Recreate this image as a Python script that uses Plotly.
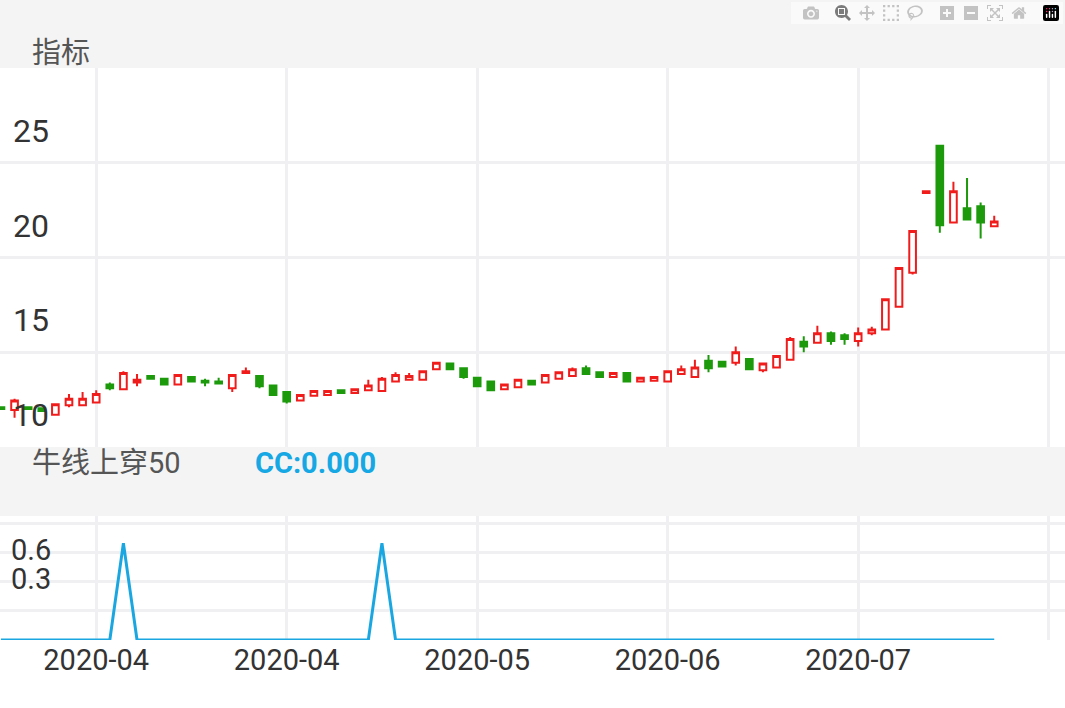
import plotly.graph_objects as go
from plotly.subplots import make_subplots

# K线数据（开、高、低、收）
opens = [12.1, 11.95, 12.1, 12.05, 11.7, 12.2, 12.2, 12.35, 13.3, 13.05,
         13.4, 13.75, 13.6, 13.3, 13.7, 13.5, 13.45, 13.1, 13.9, 13.75,
         13.25, 12.9, 12.45, 12.7, 12.75, 13.0, 12.85, 13.0, 12.95, 13.45,
         13.55, 13.55, 14.1, 14.4, 14.15, 13.65, 13.45, 13.05, 13.15, 13.5,
         13.4, 13.6, 13.75, 14.15, 13.95, 13.7, 13.9, 13.45, 13.5, 13.45,
         13.85, 13.7, 14.55, 14.5, 14.45, 14.65, 14.05, 14.2, 14.6, 15.55,
         15.5, 16.0, 15.9, 15.6, 16.0, 16.2, 17.4, 19.2, 23.4, 25.9,
         21.85, 22.6, 22.7, 21.65]
highs = [12.15, 12.55, 12.15, 12.1, 12.3, 12.8, 12.9, 13.0, 13.4, 14.0,
         13.85, 13.8, 13.65, 13.85, 13.75, 13.6, 13.65, 13.85, 14.2, 13.8,
         13.3, 12.9, 12.8, 12.95, 12.95, 13.0, 13.05, 13.55, 13.7, 13.95,
         13.9, 14.05, 14.5, 14.4, 14.15, 13.7, 13.5, 13.35, 13.6, 13.55,
         13.85, 14.0, 14.2, 14.3, 14.0, 13.9, 13.9, 13.7, 13.75, 14.0,
         14.3, 14.6, 14.85, 14.55, 15.3, 14.65, 14.45, 14.8, 15.8, 15.85,
         16.4, 16.1, 16.0, 16.3, 16.35, 17.8, 19.5, 21.4, 23.55, 25.9,
         24.0, 24.2, 22.9, 22.2]
lows = [11.95, 11.55, 11.95, 11.85, 11.7, 12.1, 12.2, 12.35, 13.0, 13.05,
        13.2, 13.55, 13.3, 13.3, 13.45, 13.2, 13.35, 12.9, 13.9, 13.1,
        12.7, 12.3, 12.4, 12.65, 12.7, 12.8, 12.85, 13.0, 12.95, 13.45,
        13.55, 13.55, 14.1, 14.1, 13.6, 13.2, 12.95, 13.0, 13.1, 13.3,
        13.4, 13.6, 13.75, 13.8, 13.65, 13.65, 13.4, 13.4, 13.5, 13.45,
        13.85, 13.7, 13.95, 14.25, 14.3, 14.05, 13.95, 14.2, 14.6, 15.0,
        15.5, 15.4, 15.4, 15.3, 15.9, 16.2, 17.4, 19.1, 23.35, 21.3,
        21.85, 22.0, 21.0, 21.65]
closes = [12.0, 12.45, 12.0, 11.9, 12.25, 12.55, 12.55, 12.8, 13.1, 13.9,
          13.55, 13.6, 13.3, 13.8, 13.45, 13.4, 13.35, 13.8, 14.0, 13.2,
          12.75, 12.4, 12.75, 12.95, 12.95, 12.85, 13.05, 13.25, 13.6, 13.8,
          13.75, 14.0, 14.45, 14.1, 13.7, 13.2, 13.0, 13.3, 13.55, 13.3,
          13.8, 13.95, 14.1, 13.85, 13.7, 13.9, 13.45, 13.65, 13.7, 14.0,
          14.1, 14.2, 14.15, 14.25, 15.0, 14.1, 14.4, 14.8, 15.7, 15.3,
          16.0, 15.6, 15.7, 16.0, 16.2, 17.8, 19.45, 21.4, 23.5, 21.7,
          23.5, 22.0, 21.85, 21.9]

# 指标：牛线上穿50 信号
signal = [0] * len(closes)
for i in (9, 28):
    signal[i] = 1

tick_idx = [7, 21, 35, 49, 63, 77]
tick_text = ["2020-04", "2020-04", "2020-05", "2020-06", "2020-07", "2020-08"]

x = list(range(len(closes)))
H = 708

fig = make_subplots(rows=2, cols=1, shared_xaxes=False)

fig.add_trace(go.Candlestick(
    x=x, open=opens, high=highs, low=lows, close=closes,
    increasing=dict(line=dict(color="#f01c1c", width=2), fillcolor="white"),
    decreasing=dict(line=dict(color="#1c9a0c", width=2), fillcolor="#1c9a0c"),
    whiskerwidth=0, showlegend=False, hoverinfo="skip"), row=1, col=1)

fig.add_trace(go.Scatter(
    x=x, y=signal, mode="lines", line=dict(color="#1aa7e1", width=3),
    showlegend=False, hoverinfo="skip"), row=2, col=1)

grid = "#f0f0f2"
common_x = dict(range=[-0.07, 78.2], tickmode="array", tickvals=tick_idx,
                showgrid=True, gridcolor=grid, gridwidth=3, zeroline=False,
                rangeslider=dict(visible=False))

fig.update_layout(
    width=1065, height=H,
    margin=dict(l=0, r=0, t=0, b=0),
    plot_bgcolor="white", paper_bgcolor="white",
    font=dict(family="Roboto, Noto Sans CJK SC", color="#333"),
    xaxis=dict(common_x, domain=[0, 1], showticklabels=False),
    xaxis2=dict(common_x, domain=[0, 1], ticktext=tick_text,
                tickfont=dict(size=29, color="#333"), ticks=""),
    yaxis=dict(domain=[1 - 447 / H, 1 - 68 / H], range=[10, 30],
               tickvals=[10, 15, 20, 25], showgrid=True, gridcolor=grid,
               gridwidth=3, zeroline=False, ticklabelposition="inside",
               ticklabelshift=-32, ticklabelstandoff=10,
               tickfont=dict(size=32, color="#333")),
    yaxis2=dict(domain=[1 - 640 / H, 1 - 516 / H], range=[0, 1.28],
                tickvals=[0.3, 0.6, 0.9, 1.2], ticktext=["0.3", "0.6", "0.9", ""],
                showgrid=True, gridcolor=grid, gridwidth=3, zeroline=False,
                ticklabelposition="inside", ticklabelshift=-32,
                ticklabelstandoff=8, tickfont=dict(size=29, color="#333")),
)

# 标题栏
for y0, y1 in ((0, 68), (447, 516)):
    fig.add_shape(type="rect", xref="paper", yref="paper", x0=0, x1=1,
                  y0=1 - y1 / H, y1=1 - y0 / H, fillcolor="#f4f4f4",
                  line=dict(width=0), layer="above")

fig.add_annotation(x=0.028, y=1 - 34 / H, xref="paper", yref="paper",
                   text="指标", showarrow=False, xanchor="left",
                   font=dict(size=29, color="#555"))
fig.add_annotation(x=0.028, y=1 - 482 / H, xref="paper", yref="paper",
                   text="牛线上穿50", showarrow=False, xanchor="left",
                   font=dict(size=29, color="#555"))
fig.add_annotation(x=0.238, y=1 - 482 / H, xref="paper", yref="paper",
                   text="<b>CC:0.000</b>", showarrow=False, xanchor="left",
                   font=dict(size=29, color="#15a8e4"))

fig.write_html("out.html", post_script="document.body.style.margin='0';")
